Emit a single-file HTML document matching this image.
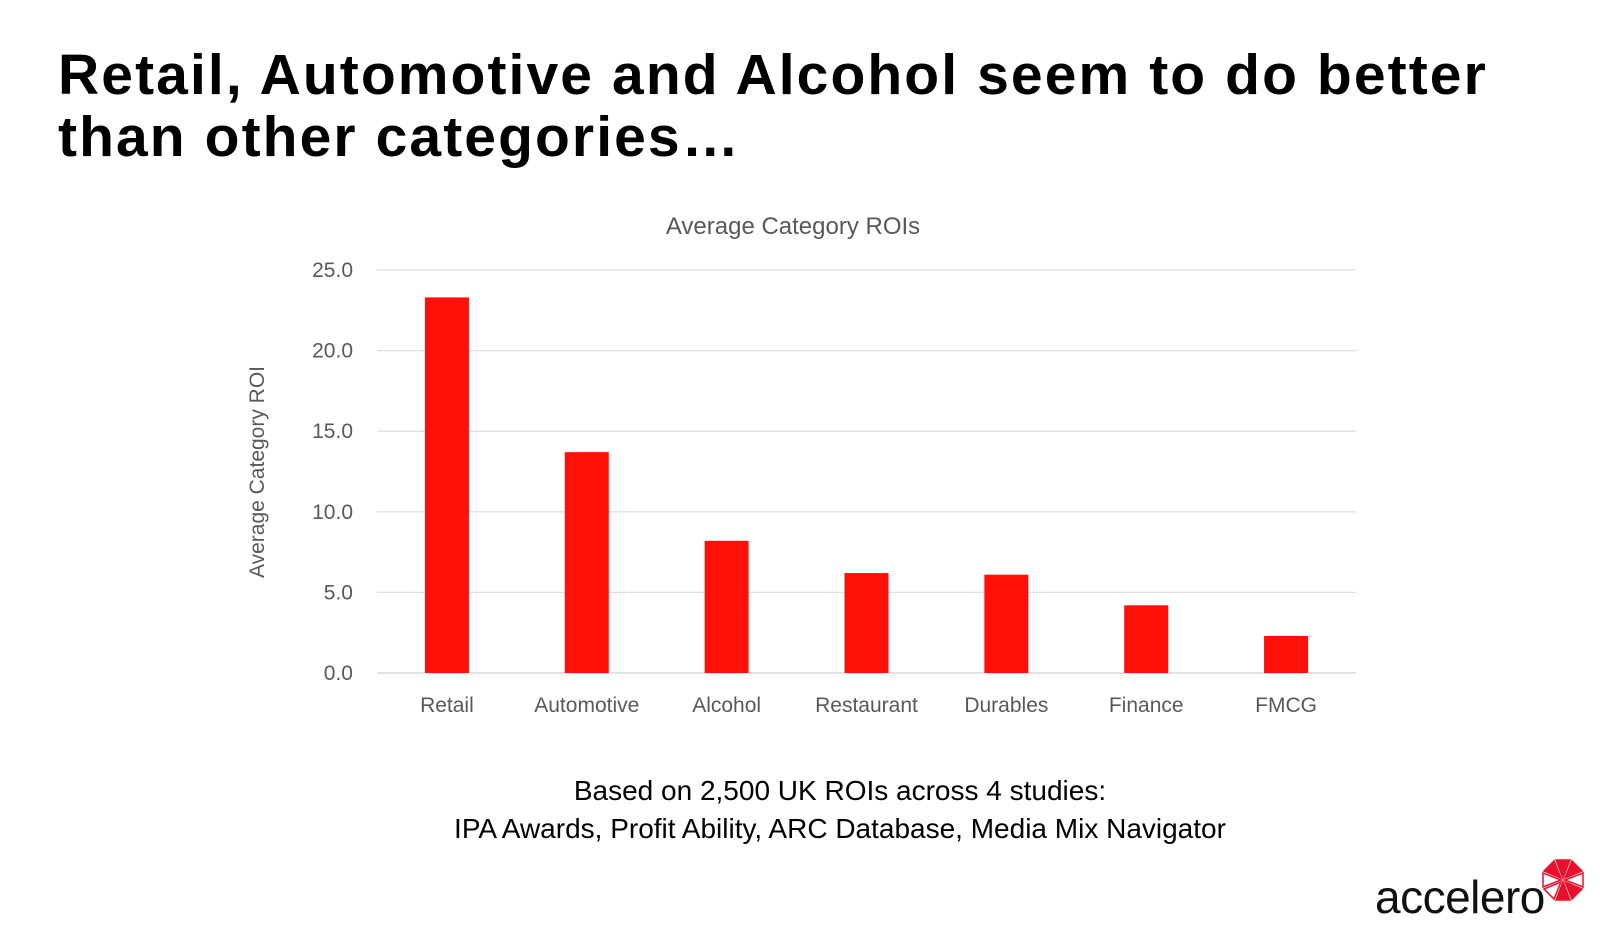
<!DOCTYPE html>
<html><head><meta charset="utf-8">
<style>
html,body{margin:0;padding:0;background:#fff;width:1600px;height:928px;overflow:hidden;font-family:"Liberation Sans",sans-serif;}
#title{position:absolute;left:58px;top:44px;font-size:57px;font-weight:bold;line-height:62px;color:#000;letter-spacing:2.1px;margin:0;white-space:nowrap;}
#chart{position:absolute;left:0;top:0;}
#note{position:absolute;left:0;width:1680px;top:772px;text-align:center;font-size:28px;line-height:38px;color:#000;}
#logo{position:absolute;left:1375px;top:871px;font-size:46px;color:#111;letter-spacing:-0.5px;line-height:53px;}
</style></head><body>
<h1 id="title">Retail, Automotive and Alcohol seem to do better<br>than other categories…</h1>
<svg id="chart" width="1600" height="928"></svg>
<div id="note">Based on 2,500 UK ROIs across 4 studies:<br>IPA Awards, Profit Ability, ARC Database, Media Mix Navigator</div>
<div id="logo">accelero</div>
<svg style="position:absolute;left:1540px;top:857px" width="46" height="46" viewBox="-23 -23 46 46">
<g fill="#e8112d" stroke="#e8112d" stroke-width="1.5">
<polygon points="0,-2 -7,-20 7,-20"/><polygon points="2,0 20,-7 20,7" fill="#fff"/><polygon points="0,2 7,20 -7,20"/><polygon points="-2,0 -20,7 -20,-7" fill="#fff"/>
<polygon points="2,-2 9,-19 19,-9"/><polygon points="2,2 19,9 9,19" /><polygon points="-2,2 -9,19 -19,9" fill="#fff"/><polygon points="-2,-2 -19,-9 -9,-19"/>
</g></svg>
<script>
const categories=["Retail","Automotive","Alcohol","Restaurant","Durables","Finance","FMCG"];
const values=[23.3,13.7,8.2,6.2,6.1,4.2,2.3];
const ticks=[0,5,10,15,20,25];
const tickLabels=["0.0","5.0","10.0","15.0","20.0","25.0"];
const NS="http://www.w3.org/2000/svg";
const svg=document.getElementById('chart');
const x0=377,x1=1356,y0=673,y25=270,yMax=25;
const y=v=>y0-(v/yMax)*(y0-y25);
const band=(x1-x0)/categories.length;
const xc=i=>x0+band*(i+0.5);
function mk(t,a){const e=document.createElementNS(NS,t);for(const k in a)e.setAttribute(k,a[k]);svg.appendChild(e);return e;}
let t=mk('text',{x:793,y:234,'text-anchor':'middle','font-size':24,fill:'#595959','font-family':'Liberation Sans, sans-serif'});t.textContent='Average Category ROIs';


ticks.forEach((v,i)=>{
 const l=mk('line',{x1:x0,x2:x1,y1:y(v),y2:y(v),stroke:v===0?'#d0d0d0':'#e0e0e0','stroke-width':1.3});
 
 
 const tx=mk('text',{x:353,y:y(v)+7,'text-anchor':'end','font-size':21,fill:'#595959','font-family':'Liberation Sans, sans-serif'});
 tx.textContent=tickLabels[i];
 
 
});
const yt=mk('text',{transform:'translate(264,472) rotate(-90)','text-anchor':'middle','font-size':21,fill:'#595959','font-family':'Liberation Sans, sans-serif'});
yt.textContent='Average Category ROI';


categories.forEach((c,i)=>{
 const bw=44;
 const r=mk('rect',{x:xc(i)-bw/2,y:y(values[i]),width:bw,height:y0-y(values[i]),fill:'#ff1008'});
 
 
 const tx=mk('text',{x:xc(i),y:712,'text-anchor':'middle','font-size':21,fill:'#595959','font-family':'Liberation Sans, sans-serif'});
 tx.textContent=c;
 
 
});
</script>
</body></html>
